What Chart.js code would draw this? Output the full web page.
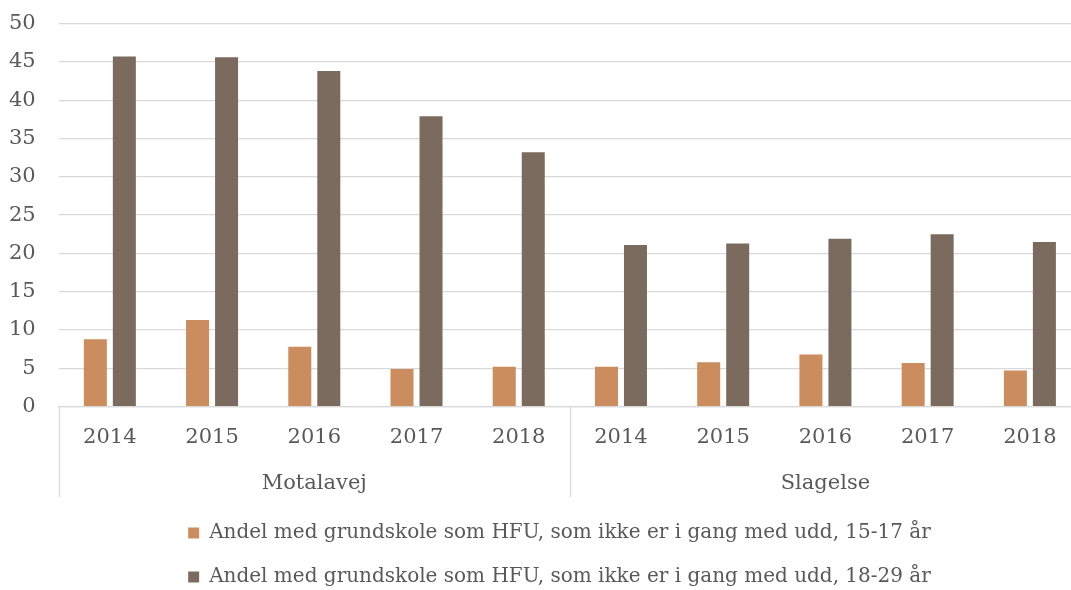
<!DOCTYPE html>
<html>
<head>
<meta charset="utf-8">
<script src="https://cdn.jsdelivr.net/npm/chart.js@4/dist/chart.umd.min.js"></script>
<style>
  html, body { margin: 0; padding: 0; background: #ffffff; overflow: hidden; }
  #clip { width: 1071px; height: 590px; overflow: hidden; position: relative; }
  #wrap { width: 1126px; height: 609px; position: absolute; left: -14px; top: -12px; }
</style>
</head>
<body>
<div id="clip"><div id="wrap"><canvas id="c"></canvas></div></div>
<script>
const years = ['2014', '2015', '2016', '2017', '2018', '2014', '2015', '2016', '2017', '2018'];
const groups = ['Motalavej', 'Slagelse'];
const seriesNames = [
  'Andel med grundskole som HFU, som ikke er i gang med udd, 15-17 år',
  'Andel med grundskole som HFU, som ikke er i gang med udd, 18-29 år'
];
const young = [8.8, 11.3, 7.8, 4.9, 5.2, 5.2, 5.8, 6.8, 5.7, 4.7];
const older = [45.7, 45.6, 43.8, 37.9, 33.2, 21.1, 21.3, 21.9, 22.5, 21.5];
const yTicks = [0, 5, 10, 15, 20, 25, 30, 35, 40, 45, 50];

const FONT = 'DejaVu Serif';
const TXT = '#595959';
const GRID = '#d9d9d9';

const separators = {
  id: 'separators',
  afterLayout(chart) {
    const lg = chart.legend;
    if (lg) { lg.left += 26; lg.right += 26; }
  },
  afterDraw(chart) {
    const x2 = chart.scales.x2;
    const ctx = chart.ctx;
    const n = groups.length;
    const step = (x2.right - x2.left) / n;
    ctx.save();
    ctx.strokeStyle = GRID;
    ctx.lineWidth = 1.3;
    for (let i = 0; i <= n; i++) {
      const px = Math.round(x2.left + i * step) + 0.5;
      ctx.beginPath();
      ctx.moveTo(px, chart.chartArea.bottom);
      ctx.lineTo(px, x2.bottom - 2);
      ctx.stroke();
    }
    ctx.restore();
  }
};

new Chart(document.getElementById('c'), {
  type: 'bar',
  data: {
    labels: years,
    datasets: [
      { label: seriesNames[0], data: young, backgroundColor: '#cb8c5e', borderWidth: 0,
        categoryPercentage: 0.5675, barPercentage: 0.793 },
      { label: seriesNames[1], data: older, backgroundColor: '#7b6a5e', borderWidth: 0,
        categoryPercentage: 0.5675, barPercentage: 0.793 }
    ]
  },
  options: {
    responsive: true,
    maintainAspectRatio: false,
    animation: false,
    layout: { padding: { left: 0, right: 31, top: 0, bottom: 0 } },
    plugins: {
      tooltip: { enabled: false },
      legend: {
        position: 'bottom',
        align: 'center',
        labels: {
          font: { family: FONT, size: 20 },
          color: TXT,
          boxWidth: 11,
          boxHeight: 11,
          padding: 24
        }
      }
    },
    scales: {
      x: {
        type: 'category',
        position: 'bottom',
        grid: { display: false, drawTicks: false },
        border: { display: true, color: GRID, width: 1.3 },
        ticks: { font: { family: FONT, size: 21 }, color: TXT, padding: 18, maxRotation: 0, autoSkip: false }
      },
      x2: {
        type: 'category',
        position: 'bottom',
        labels: groups,
        offset: true,
        grid: { display: false, drawTicks: false },
        border: { display: false },
        ticks: { font: { family: FONT, size: 21 }, color: TXT, padding: 3, maxRotation: 0 }
      },
      y: {
        min: 0,
        max: 50,
        afterBuildTicks(scale) { scale.ticks = yTicks.map(v => ({ value: v })); },
        grid: { color: GRID, lineWidth: 1.3, drawTicks: false },
        border: { display: false },
        ticks: { font: { family: FONT, size: 21 }, color: TXT, padding: 23 }
      }
    }
  },
  plugins: [separators]
});
</script>
</body>
</html>
